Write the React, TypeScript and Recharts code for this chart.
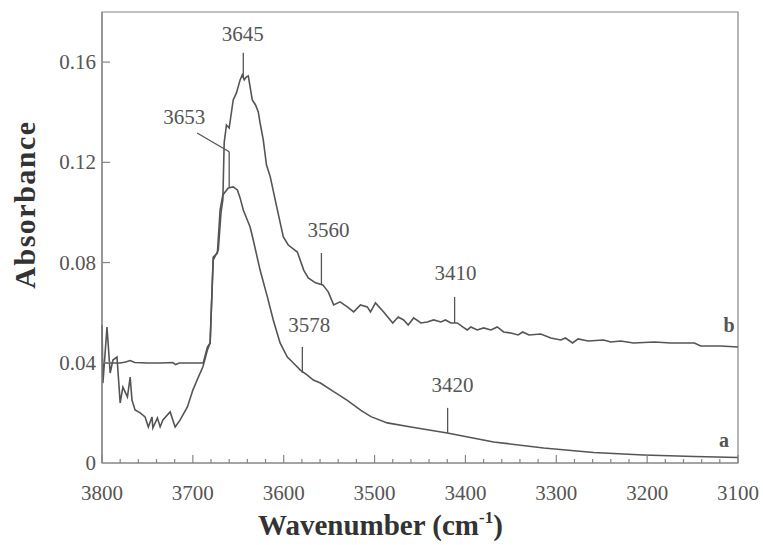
import React from 'react';
import { LineChart, Line, XAxis, YAxis, ReferenceLine, ReferenceDot, ReferenceArea } from 'recharts';

// spectrum a (lower curve)
const waveA = [
    3800, 3799, 3794.5, 3791, 3788, 3783.5, 3780, 3777, 3772, 3769, 3767, 3763.6, 3758, 3752.6, 3749,
    3745, 3744, 3739, 3736, 3733, 3725, 3719.5, 3714, 3706, 3700, 3692, 3689, 3684, 3681, 3677.6,
    3673, 3670, 3667, 3661, 3655.6, 3651, 3648, 3644.5, 3637, 3633.5, 3626, 3618, 3611.5, 3604, 3596,
    3589.4, 3581.7, 3574, 3567.4, 3559.6, 3545, 3530, 3515, 3504, 3486, 3460, 3420, 3369, 3314, 3259,
    3204, 3148, 3100,
];
const absA = [
    0.0551, 0.0319, 0.0543, 0.0359, 0.0411, 0.0423, 0.024, 0.0303, 0.0264, 0.0343, 0.0251, 0.0212, 0.02, 0.0184, 0.0144,
    0.0184, 0.014, 0.018, 0.0144, 0.0172, 0.0204, 0.0144, 0.0172, 0.0224, 0.0291, 0.0359, 0.0383, 0.0451, 0.0479, 0.0822,
    0.0838, 0.101, 0.107, 0.1098, 0.1102, 0.109, 0.1058, 0.101, 0.0942, 0.089, 0.077, 0.0663, 0.0571, 0.0479, 0.0423,
    0.0399, 0.0371, 0.0351, 0.0331, 0.0319, 0.0285, 0.025, 0.021, 0.0185, 0.016, 0.0144, 0.012, 0.0084, 0.006, 0.0042,
    0.0032, 0.0026, 0.0022,
];

// spectrum b (upper curve)
const waveB = [
    3800, 3790, 3780, 3774, 3769, 3764, 3750, 3735, 3722, 3719, 3715, 3700, 3688.6, 3684, 3681,
    3677.6, 3672, 3669, 3667, 3665.5, 3663, 3660, 3655.6, 3652, 3648, 3645.6, 3643.4, 3641, 3639, 3634.6,
    3631, 3628, 3626, 3622.5, 3619, 3614.8, 3607, 3600.4, 3595, 3585, 3578, 3573, 3565, 3557, 3551,
    3545, 3538, 3530, 3523, 3515.5, 3508, 3504.5, 3499, 3490, 3480, 3474, 3468, 3463, 3457, 3449,
    3442, 3435, 3427, 3422, 3416, 3409, 3403, 3398, 3394, 3387, 3380, 3372, 3365, 3358, 3350,
    3342, 3337, 3330, 3317, 3306, 3295, 3290, 3282, 3276, 3265, 3248, 3240, 3229, 3215, 3192,
    3174, 3148, 3141, 3119, 3100,
];
const absB = [
    0.0399, 0.0399, 0.0399, 0.0403, 0.0409, 0.0401, 0.0399, 0.0399, 0.0401, 0.0393, 0.0399, 0.0399, 0.0399, 0.0463, 0.0479,
    0.081, 0.085, 0.1, 0.105, 0.128, 0.1349, 0.1337, 0.1449, 0.1477, 0.1529, 0.1549, 0.1529, 0.1541, 0.1545, 0.1449,
    0.1429, 0.1401, 0.1357, 0.129, 0.119, 0.1142, 0.101, 0.0902, 0.087, 0.0842, 0.077, 0.0739, 0.0719, 0.0711, 0.0683,
    0.0631, 0.0643, 0.0623, 0.0603, 0.0631, 0.0623, 0.0603, 0.0639, 0.0603, 0.0559, 0.0583, 0.0571, 0.0551, 0.0579, 0.0559,
    0.0563, 0.0571, 0.0563, 0.0571, 0.0559, 0.0559, 0.0543, 0.0531, 0.0543, 0.0531, 0.0539, 0.0531, 0.0543, 0.0523, 0.0519,
    0.0511, 0.0523, 0.0511, 0.0515, 0.0499, 0.0491, 0.0499, 0.0479, 0.0495, 0.0487, 0.0491, 0.0483, 0.0487, 0.0479, 0.0483,
    0.0479, 0.0479, 0.0467, 0.0467, 0.0463,
];

const xMajor = [3800, 3700, 3600, 3500, 3400, 3300, 3200, 3100];
const yTicks = [0, 0.04, 0.08, 0.12, 0.16];

// peak labels, placed in data coordinates
const peakTags = ['3645', '3653', '3560', '3410', '3578', '3420'];
const tagWave = [3645, 3709.6, 3550.8, 3410.8, 3571.8, 3414.1];
const tagAbs = [0.1711, 0.1381, 0.093, 0.076, 0.0549, 0.0313];

// leader lines from label to curve: [wn1, abs1, wn2, abs2]
const leaders = [
    [3644.5, 0.1637, 3644.5, 0.1537],
    [3695.3, 0.1317, 3660, 0.1242],
    [3660, 0.1242, 3660, 0.1102],
    [3558.5, 0.0838, 3558.5, 0.0711],
    [3411.9, 0.0663, 3411.9, 0.0559],
    [3579.5, 0.0463, 3579.5, 0.0359],
    [3419.6, 0.022, 3419.6, 0.012],
];

const curveNames = ['a', 'b'];
const curveWave = [3115.3, 3109.8];
const curveAbs = [0.0092, 0.0551];

const FONT = '"Liberation Serif", "Times New Roman", serif';
const INK = '#555';
const AXIS = '#858585';

const seriesA = waveA.map((wn, i) => ({ wn, abs: absA[i] }));
const seriesB = waveB.map((wn, i) => ({ wn, abs: absB[i] }));
const xTicks = xMajor.flatMap(m => [m, m - 20, m - 40, m - 60, m - 80]).filter(t => t >= 3100);

const XTick = (props: any) => {
    const { x, y, payload } = props;
    const major = payload.value % 100 === 0;
    return (
        <g>
            <line x1={x} y1={y} x2={x} y2={y - (major ? 8 : 4)} stroke={AXIS} strokeWidth={1.2} />
            {major && (
                <text x={x} y={y + 37} textAnchor="middle" fontSize={21} fontFamily={FONT} fill={INK}>
                    {payload.value}
                </text>
            )}
        </g>
    );
};

const YTick = (props: any) => {
    const { x, y, payload } = props;
    const v = payload.value;
    return (
        <g>
            {v !== 0 && <line x1={x} y1={y} x2={x + 8} y2={y} stroke={AXIS} strokeWidth={1.2} />}
            <text x={x - 6} y={y + 7} textAnchor="end" fontSize={21} fontFamily={FONT} fill={INK}>
                {v === 0 ? '0' : v.toFixed(2)}
            </text>
        </g>
    );
};

const XTitle = ({ viewBox }: any) => (
    <text x={viewBox.x + 156} y={viewBox.y + 72} fontSize={29} fontWeight="bold" fontFamily={FONT} fill="#333">
        Wavenumber (cm
        <tspan fontSize={17} dy={-12}>-1</tspan>
        <tspan dy={12}>)</tspan>
    </text>
);

const YTitle = ({ viewBox }: any) => {
    const cx = viewBox.x + 24;
    const cy = viewBox.y + viewBox.height / 2 - 33;
    return (
        <text
            x={cx}
            y={cy}
            transform={`rotate(-90, ${cx}, ${cy})`}
            textAnchor="middle"
            dominantBaseline="central"
            fontSize={30}
            letterSpacing={1.5}
            fontWeight="bold"
            fontFamily={FONT}
            fill="#333"
        >
            Absorbance
        </text>
    );
};

const tagShape = (text: string, bold: boolean) => (p: any) => (
    <text
        x={p.cx}
        y={p.cy}
        textAnchor="middle"
        dominantBaseline="central"
        fontSize={bold ? 20 : 21}
        fontWeight={bold ? 'bold' : 'normal'}
        fontFamily={FONT}
        fill={INK}
    >
        {text}
    </text>
);

export default function App() {
    return (
        <div style={{ position: 'absolute', left: 0, top: 0, background: '#fff' }}>
            <LineChart width={763} height={545} margin={{ top: 12, right: 25, bottom: 22, left: 0 }}>
                <ReferenceArea x1={3800} x2={3100} y1={0} y2={0.18} fill="none" stroke={AXIS} strokeWidth={1.2} />
                <XAxis
                    dataKey="wn"
                    type="number"
                    domain={[3100, 3800]}
                    reversed
                    ticks={xTicks}
                    interval={0}
                    tick={<XTick />}
                    tickLine={false}
                    tickSize={0}
                    tickMargin={0}
                    height={60}
                    axisLine={{ stroke: AXIS, strokeWidth: 1.2 }}
                    label={<XTitle />}
                />
                <YAxis
                    type="number"
                    domain={[0, 0.18]}
                    ticks={yTicks}
                    interval={0}
                    tick={<YTick />}
                    tickLine={false}
                    tickSize={0}
                    tickMargin={0}
                    width={102}
                    axisLine={{ stroke: AXIS, strokeWidth: 1.2 }}
                    label={<YTitle />}
                />
                <Line data={seriesA} dataKey="abs" type="linear" dot={false} stroke={INK} strokeWidth={1.6} isAnimationActive={false} />
                <Line data={seriesB} dataKey="abs" type="linear" dot={false} stroke={INK} strokeWidth={1.6} isAnimationActive={false} />
                {leaders.map((s, i) => (
                    <ReferenceLine
                        key={`lead-${i}`}
                        segment={[{ x: s[0], y: s[1] }, { x: s[2], y: s[3] }]}
                        stroke={INK}
                        strokeWidth={1.3}
                    />
                ))}
                {peakTags.map((t, i) => (
                    <ReferenceDot key={`tag-${t}`} x={tagWave[i]} y={tagAbs[i]} r={0} shape={tagShape(t, false)} />
                ))}
                {curveNames.map((n, i) => (
                    <ReferenceDot key={`name-${n}`} x={curveWave[i]} y={curveAbs[i]} r={0} shape={tagShape(n, true)} />
                ))}
            </LineChart>
        </div>
    );
}
